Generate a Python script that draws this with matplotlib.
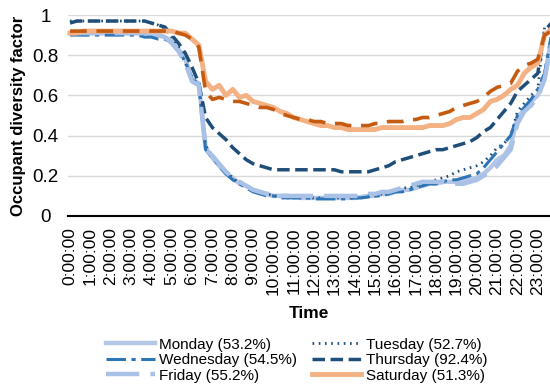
import numpy as np
import matplotlib
matplotlib.use('Agg')
import matplotlib.pyplot as plt

# occupancy readings every 20 minutes, 0:00 .. 23:40
monday = [
    .91, .91, .91,  .91, .91, .91,  .91, .91, .91,  .91, .91, .91,
    .90, .90, .89,  .87, .83, .78,  .68, .66, .34,  .29, .25, .21,
    .19, .16, .15,  .13, .12, .11,  .10, .10, .10,  .095, .09, .09,
    .09, .09, .09,  .09, .09, .09,  .09, .095, .10,  .10, .11, .11,
    .12, .13, .13,  .14, .15, .16,  .16, .17, .17,  .17, .18, .18,
    .19, .21, .24,  .28, .30, .35,  .49, .53, .57,  .60, .69, .88,
]
tuesday = [
    .97, .97, .97,  .97, .97, .97,  .97, .97, .97,  .97, .97, .97,
    .96, .95, .93,  .89, .84, .76,  .69, .65, .35,  .30, .26, .22,
    .19, .16, .15,  .13, .12, .11,  .10, .10, .09,  .09, .09, .09,
    .09, .09, .09,  .09, .09, .09,  .09, .09, .10,  .10, .11, .12,
    .13, .14, .14,  .15, .16, .17,  .18, .19, .20,  .22, .23, .24,
    .25, .27, .30,  .34, .36, .40,  .52, .56, .60,  .63, .94, .95,
]
wednesday = [
    .90, .90, .90,  .90, .90, .90,  .90, .90, .90,  .90, .90, .89,
    .89, .88, .88,  .86, .82, .77,  .68, .65, .33,  .29, .25, .21,
    .18, .16, .14,  .12, .11, .10,  .10, .09, .09,  .09, .09, .09,
    .085, .085, .085,  .085, .085, .085,  .09, .09, .095,  .10, .10, .11,
    .12, .12, .13,  .14, .15, .16,  .16, .17, .18,  .18, .19, .20,
    .21, .24, .28,  .32, .36, .40,  .50, .54, .58,  .63, .71, .90,
]
thursday = [
    .96, .97, .97,  .97, .97, .97,  .97, .97, .97,  .97, .97, .97,
    .96, .95, .94,  .90, .86, .81,  .74, .66, .49,  .44, .41, .38,
    .34, .31, .28,  .26, .25, .24,  .23, .23, .23,  .23, .23, .23,
    .23, .23, .23,  .23, .22, .22,  .22, .22, .22,  .23, .24, .25,
    .27, .28, .29,  .30, .31, .32,  .33, .33, .34,  .35, .36, .37,
    .39, .42, .44,  .48, .52, .56,  .62, .65, .68,  .71, .92, .96,
]
friday = [
    .91, .91, .91,  .91, .91, .91,  .91, .91, .91,  .91, .91, .91,
    .90, .90, .89,  .86, .82, .76,  .67, .65, .33,  .30, .26, .22,
    .19, .17, .15,  .13, .12, .11,  .11, .10, .10,  .10, .10, .10,
    .10, .10, .10,  .10, .10, .10,  .10, .10, .11,  .11, .12, .12,
    .13, .14, .15,  .16, .17, .17,  .17, .17, .16,  .16, .16, .17,
    .18, .20, .22,  .25, .29, .33,  .46, .52, .55,  .59, .68, .86,
]
saturday = [
    .91, .91, .92,  .92, .92, .92,  .92, .92, .92,  .92, .92, .92,
    .92, .92, .92,  .92, .91, .91,  .88, .85, .67,  .63, .65, .60,
    .63, .59, .60,  .57, .56, .55,  .54, .52, .51,  .49, .48, .47,
    .46, .45, .45,  .44, .44, .43,  .43, .43, .43,  .43, .44, .44,
    .44, .44, .44,  .44, .44, .45,  .45, .45, .46,  .48, .49, .49,
    .51, .53, .57,  .58, .60, .63,  .65, .71, .74,  .76, .90, .93,
]
sunday = [
    .92, .92, .92,  .92, .92, .92,  .92, .92, .92,  .92, .92, .92,
    .92, .92, .92,  .92, .91, .90,  .88, .84, .62,  .58, .59, .58,
    .57, .57, .56,  .55, .54, .54,  .53, .51, .50,  .49, .48, .48,
    .47, .47, .46,  .46, .46, .45,  .45, .45, .45,  .46, .46, .47,
    .47, .47, .48,  .48, .49, .49,  .50, .51, .52,  .54, .55, .56,
    .57, .59, .62,  .64, .65, .66,  .72, .75, .76,  .78, .90, .92,
]

labels = ['Monday (53.2%)', 'Tuesday (52.7%)', 'Wednesday (54.5%)', 'Thursday (92.4%)',
          'Friday (55.2%)', 'Saturday (51.3%)', 'Sunday']
hour_labels = [f'{h}:00:00' for h in range(24)]

plt.rcParams['lines.scale_dashes'] = False
plt.rcParams['font.family'] = ['Liberation Sans', 'DejaVu Sans']

hours = np.arange(len(monday)) / 3.0

fig = plt.figure(figsize=(5.5, 3.91), dpi=100)
ax = fig.add_axes([68 / 550, 1 - 216 / 391, 482 / 550, 201 / 391])

styles = [
    dict(color='#B4C7E7', lw=3.2, ls='-'),
    dict(color='#1F4E79', lw=2.0, ls=(0, (1.2, 3.3))),
    dict(color='#2E75B6', lw=2.2, ls=(0, (14, 4, 3, 4))),
    dict(color='#1F4E79', lw=2.5, ls=(0, (9, 4))),
    dict(color='#A9C1E6', lw=3.2, ls=(0, (24, 8))),
    dict(color='#F4B183', lw=3.5, ls='-'),
    dict(color='#C55A11', lw=2.6, ls=(0, (12, 7))),
]
series = [monday, tuesday, wednesday, thursday, friday, saturday, sunday]
lines = []
for vals, lab, st in zip(series, labels, styles):
    ln, = ax.plot(hours, vals, label=lab, color=st['color'], lw=st['lw'],
                  linestyle=st['ls'], clip_on=False)
    lines.append(ln)

ax.set_xlim(-0.1, 23.6)
ax.set_ylim(0, 1)
ax.set_yticks([0, 0.2, 0.4, 0.6, 0.8, 1.0])
ax.set_yticklabels(['0', '0.2', '0.4', '0.6', '0.8', '1'], fontsize=13.5, ha='center')
ax.set_xticks(range(24))
ax.set_xticklabels(hour_labels, rotation=90, fontsize=12.5)
ax.tick_params(axis='x', length=0, pad=8)
ax.tick_params(axis='y', length=0, pad=16)
ax.grid(axis='y', color='#D9D9D9', lw=1)
ax.set_axisbelow(True)
for s in ['top', 'right', 'left']:
    ax.spines[s].set_visible(False)
ax.spines['bottom'].set_linewidth(1.5)
ax.spines['bottom'].set_zorder(5)

ax.set_ylabel('Occupant diversity factor', fontsize=12, fontweight='bold', labelpad=5)
ax.set_xlabel('Time', fontsize=12.5, fontweight='bold', labelpad=8)

# two-column legend under the axis (Mon/Wed/Fri left, Tue/Thu/Sat right)
order = [0, 2, 4, 1, 3, 5]
fig.legend([lines[i] for i in order], [labels[i] for i in order], ncol=2,
           loc='upper left', bbox_to_anchor=(98 / 550, 1 - 330 / 391),
           frameon=False, fontsize=11, handlelength=3.2, handletextpad=0.3,
           columnspacing=1.0, labelspacing=0.1, borderpad=0)

fig.savefig('out.png', dpi=100)
